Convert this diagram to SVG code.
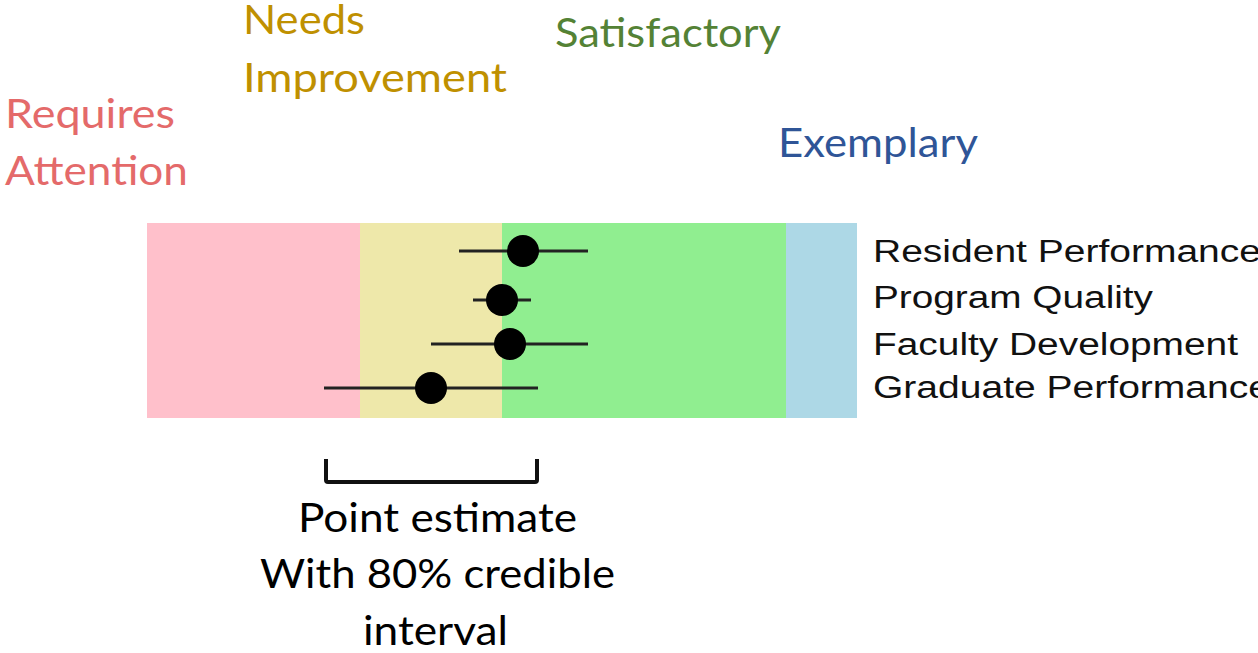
<svg xmlns="http://www.w3.org/2000/svg" width="1258" height="653" viewBox="0 0 1258 653">
<style>
.cat{font-family:Lato,"Liberation Sans",sans-serif;font-size:41px;}
.row{font-family:"Liberation Sans",Arial,sans-serif;font-size:31px;fill:#111;}
.note{font-family:Lato,"Liberation Sans",sans-serif;font-size:40px;fill:#000;}
.ci{stroke:#222;stroke-width:3;fill:none;}
.pt{fill:#000;}
</style>
<rect width="1258" height="653" fill="#fff"/>
<g id="bands">
<rect x="147" y="223" width="213" height="195" fill="#FFC0CB"/>
<rect x="360" y="223" width="142" height="195" fill="#EEE8AA"/>
<rect x="502" y="223" width="284" height="195" fill="#90EE90"/>
<rect x="786" y="223" width="71" height="195" fill="#ADD8E6"/>
</g>
<g id="category-labels">
<g id="requires-attention" fill="#E46A6A">
<text class="cat" x="5" y="128" textLength="170" lengthAdjust="spacingAndGlyphs">Requires</text>
<text class="cat" x="5" y="185" textLength="183" lengthAdjust="spacingAndGlyphs">Attention</text>
</g>
<g id="needs-improvement" fill="#BF9000">
<text class="cat" x="243" y="34" textLength="122" lengthAdjust="spacingAndGlyphs">Needs</text>
<text class="cat" x="243" y="92" textLength="264" lengthAdjust="spacingAndGlyphs">Improvement</text>
</g>
<g id="satisfactory" fill="#548235">
<text class="cat" x="555" y="47" textLength="226" lengthAdjust="spacingAndGlyphs">Satisfactory</text>
</g>
<g id="exemplary" fill="#2F5597">
<text class="cat" x="778" y="157" textLength="200" lengthAdjust="spacingAndGlyphs">Exemplary</text>
</g>
</g>
<g id="intervals">
<line class="ci" x1="459" y1="251" x2="588" y2="251"/>
<line class="ci" x1="473" y1="300" x2="531" y2="300"/>
<line class="ci" x1="431" y1="344" x2="588" y2="344"/>
<line class="ci" x1="324" y1="388" x2="538" y2="388"/>
</g>
<g id="resident-performance">
<circle class="pt" cx="523" cy="251" r="16"/>
<text class="row" x="873" y="262" textLength="388" lengthAdjust="spacingAndGlyphs">Resident Performance</text>
</g>
<g id="program-quality">
<circle class="pt" cx="502" cy="300" r="16"/>
<text class="row" x="873" y="308" textLength="280" lengthAdjust="spacingAndGlyphs">Program Quality</text>
</g>
<g id="faculty-development">
<circle class="pt" cx="510" cy="344" r="16"/>
<text class="row" x="873" y="355" textLength="365" lengthAdjust="spacingAndGlyphs">Faculty Development</text>
</g>
<g id="graduate-performance">
<circle class="pt" cx="431" cy="388" r="16"/>
<text class="row" x="873" y="398" textLength="397" lengthAdjust="spacingAndGlyphs">Graduate Performance</text>
</g>
<g id="legend">
<path d="M326 459 V480 Q326 482 328 482 H535 Q537 482 537 480 V459" fill="none" stroke="#111" stroke-width="4"/>
<text class="note" x="298" y="532" textLength="279" lengthAdjust="spacingAndGlyphs">Point estimate</text>
<text class="note" x="260" y="588" textLength="355" lengthAdjust="spacingAndGlyphs">With 80% credible</text>
<text class="note" x="363" y="645" textLength="145" lengthAdjust="spacingAndGlyphs">interval</text>
</g>
</svg>
